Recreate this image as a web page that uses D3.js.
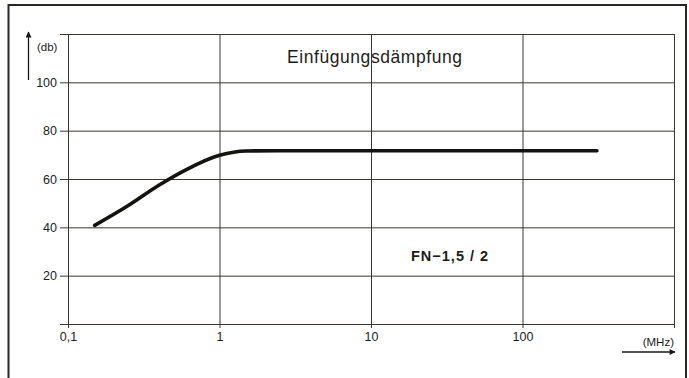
<!DOCTYPE html>
<html>
<head>
<meta charset="utf-8">
<script src="https://cdn.jsdelivr.net/npm/d3@7"></script>
<style>
  body { margin: 0; background: #fff; }
  svg { display: block; font-family: "Liberation Sans", Arial, sans-serif; }
</style>
</head>
<body>
<svg id="svg1"></svg>
<script>
const freqs = [0.15, 0.25, 0.4, 0.6, 1, 1.5, 2.5, 10, 100, 310];
const dbValues = [40.8, 49, 57.5, 63.8, 69.8, 71.6, 71.7, 71.7, 71.7, 71.7];
const xTicks = [0.1, 1, 10, 100, 1000];
const xTickLabels = ["0,1", "1", "10", "100", ""];
const yTicks = [0, 20, 40, 60, 80, 100, 120];
const yTickLabels = ["", "20", "40", "60", "80", "100", ""];

const width = 689;
const height = 378;
const ink = "#3b3631";

const svg = d3.select("#svg1")
              .attr("width", width)
              .attr("height", height);

const x = d3.scaleLog().domain([0.1, 1000]).range([68, 674]);
const y = d3.scaleLinear().domain([0, 120]).range([324, 34]);

// outer frame
svg.append("path")
   .attr("d", "M8.5,378 L8.5,5 L686,5 L686,378")
   .attr("fill", "none")
   .attr("stroke", "#2a2622")
   .attr("stroke-width", 2);

// horizontal grid lines, drawn as long ticks
svg.append("g")
   .attr("transform", "translate(674,0)")
   .call(d3.axisLeft(y).tickValues(yTicks).tickFormat("").tickSize(674 - 60))
   .call(g => {
     g.select(".domain").remove();
     g.selectAll("line").attr("stroke", ink).attr("stroke-width", 1);
   });

svg.append("g")
   .attr("transform", "translate(60,0)")
   .call(d3.axisLeft(y).tickValues(yTicks).tickFormat((d, i) => yTickLabels[i]).tickSize(0).tickPadding(3))
   .call(g => {
     g.select(".domain").remove();
     g.selectAll("text")
      .attr("fill", "#222")
      .style("font-size", "12.5px")
      .style("font-family", "'Liberation Sans', Arial, sans-serif");
   });

// vertical grid lines
svg.append("g")
   .attr("transform", "translate(0,328)")
   .call(d3.axisTop(x).tickValues(xTicks).tickFormat("").tickSize(328 - 34))
   .call(g => {
     g.select(".domain").remove();
     g.selectAll("line").attr("stroke", ink).attr("stroke-width", 1);
   });

svg.append("g")
   .attr("transform", "translate(0,328)")
   .call(d3.axisBottom(x).tickValues(xTicks).tickFormat((d, i) => xTickLabels[i]).tickSize(0).tickPadding(4))
   .call(g => {
     g.select(".domain").remove();
     g.selectAll("text")
      .attr("fill", "#222")
      .style("font-size", "12.5px")
      .style("font-family", "'Liberation Sans', Arial, sans-serif");
   });

// curve
const line = d3.line()
               .x((d, i) => x(freqs[i]))
               .y(d => y(d))
               .curve(d3.curveMonotoneX);

svg.append("path")
   .datum(dbValues)
   .attr("d", line)
   .attr("fill", "none")
   .attr("stroke", "#151310")
   .attr("stroke-width", 3.6)
   .attr("stroke-linecap", "round");

// arrows
svg.append("defs").append("marker")
   .attr("id", "arrow")
   .attr("viewBox", "0 0 10 10")
   .attr("refX", 9)
   .attr("refY", 5)
   .attr("markerWidth", 12)
   .attr("markerHeight", 6)
   .attr("markerUnits", "userSpaceOnUse")
   .attr("orient", "auto")
   .append("path")
   .attr("d", "M0,0 L10,5 L0,10 Z")
   .attr("fill", "#1b1815");

svg.append("line")
   .attr("x1", 28.5).attr("y1", 80)
   .attr("x2", 28.5).attr("y2", 32)
   .attr("stroke", "#1b1815")
   .attr("stroke-width", 1.3)
   .attr("marker-end", "url(#arrow)");

svg.append("line")
   .attr("x1", 622).attr("y1", 352)
   .attr("x2", 675).attr("y2", 352)
   .attr("stroke", "#1b1815")
   .attr("stroke-width", 1.3)
   .attr("marker-end", "url(#arrow)");

svg.append("text")
   .attr("x", 37).attr("y", 51)
   .attr("fill", "#222")
   .style("font-size", "11.5px")
   .text("(db)");

svg.append("text")
   .attr("x", 674).attr("y", 346)
   .attr("text-anchor", "end")
   .attr("fill", "#222")
   .style("font-size", "11.5px")
   .text("(MHz)");

svg.append("text")
   .attr("x", 287).attr("y", 63)
   .attr("fill", "#1e1c1a")
   .attr("textLength", 175)
   .style("font-size", "17.5px")
   .text("Einfügungsdämpfung");

svg.append("text")
   .attr("x", 411).attr("y", 261)
   .attr("fill", "#1e1c1a")
   .style("font-size", "14.5px")
   .style("font-weight", "bold")
   .style("letter-spacing", "1px")
   .text("FN\u22121,5 / 2");
</script>
</body>
</html>
